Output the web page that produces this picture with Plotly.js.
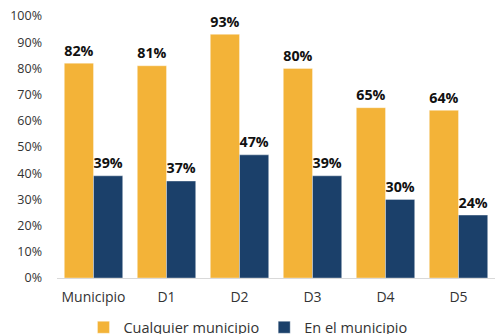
<!DOCTYPE html>
<html><head><meta charset="utf-8">
<script src="https://cdn.plot.ly/plotly-3.0.1.min.js"></script>
<style>html,body{margin:0;padding:0;background:#fff}#c{width:495px;height:334px}</style>
</head><body><div id="c"></div>
<script>
const categories = ["Municipio","D1","D2","D3","D4","D5"];
const seriesNames = ["Cualquier municipio","En el municipio"];
const cualquier = [82,81,93,80,65,64];
const enElMunicipio = [39,37,47,39,30,24];
const yTickVals = [0,10,20,30,40,50,60,70,80,90,100];
const yTickText = yTickVals.map(v => v + "%");

const FONT = "Open Sans, Noto Sans, sans-serif";
function mk(name, vals, color){
  return {type:"bar", name:name, x:categories, y:vals,
    marker:{color:color, line:{color:"rgba(255,255,255,0.6)", width:0.6}},
    text: vals.map(v=>v+"%"), textposition:"outside", cliponaxis:false,
    textfont:{family:FONT, size:15.5, color:"#111", weight:700},
    hoverinfo:"none"};
}
const data = [mk(seriesNames[0], cualquier, "#F3B338"), mk(seriesNames[1], enElMunicipio, "#1B406A")];
const layout = {
  width:495, height:334,
  margin:{l:57, r:0, t:16, b:56, autoexpand:false},
  paper_bgcolor:"#fff", plot_bgcolor:"#fff",
  font:{family:FONT, size:13, color:"#333"},
  barmode:"group", bargap:0.2, bargroupgap:0,
  showlegend:true,
  legend:{orientation:"h", x:0.436, xanchor:"center", yref:"container", y:0.02, yanchor:"middle",
    font:{family:FONT, size:14.5, color:"#333"}, traceorder:"normal"},
  xaxis:{showline:true, linecolor:"#d9d9d9", linewidth:1, ticks:"", showgrid:false, ticklabelstandoff:6,
    tickfont:{family:FONT, size:14, color:"#333"}, fixedrange:true},
  yaxis:{range:[0,100], tickvals:yTickVals, ticktext:yTickText, showgrid:false, zeroline:false,
    showline:false, ticks:"", ticklabelstandoff:14, tickfont:{family:FONT, size:12.5, color:"#333"}}
};
Plotly.newPlot("c", data, layout, {staticPlot:true});
</script></body></html>
